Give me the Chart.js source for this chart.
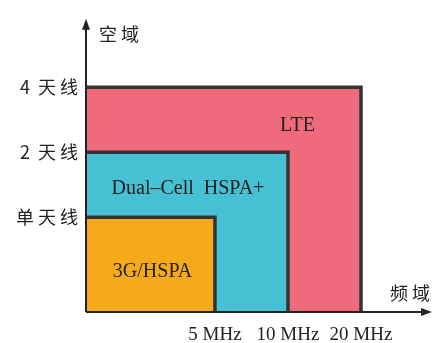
<!DOCTYPE html>
<html>
<head>
<meta charset="utf-8">
<script src="https://cdn.jsdelivr.net/npm/chart.js@4/dist/chart.umd.min.js"></script>
<style>
  html, body { margin: 0; padding: 0; background: #fff; }
  canvas { display: block; }
</style>
</head>
<body>
<canvas id="chart" width="434" height="343"></canvas>
<script>
// bandwidth (MHz) and antenna count for each technology
const techNames = ["3G/HSPA", "Dual\u2013Cell  HSPA+", "LTE"];
const techBandwidth = [5, 10, 20];
const techAntennas = [1, 2, 4];
const techColors = ["#f5aa1a", "#46c1d3", "#ef6a7b"];

const xTickValues = [5, 10, 20];
const xTickLabels = ["5 MHz", "10 MHz", "20 MHz"];
const yTickValues = [1, 2, 4];
const yTickLabels = ["单 天 线", "2  天 线", "4  天 线"];

const xTitle = "频 域";
const yTitle = "空 域";

// axis extents (log2 spacing: one doubling per step)
const xMin = 1.47, xMax = 38.5;
const yMin = 0.364, yMax = 8.3;

const ink = "#222";
const serif = "'Liberation Serif', 'DejaVu Serif', serif";
const cjk = "'Noto Sans CJK SC', sans-serif";

const datasets = techNames.map((name, i) => ({
  label: name,
  data: [
    {x: xMin, y: techAntennas[i]},
    {x: techBandwidth[i], y: techAntennas[i]},
    {x: techBandwidth[i], y: yMin}
  ],
  backgroundColor: techColors[i],
  borderColor: "#333",
  borderWidth: 3.5,
  fill: "start",
  pointRadius: 0,
  tension: 0
}));

const decorations = {
  id: "decorations",
  afterDatasetsDraw(chart) {
    const {ctx, chartArea: a, scales: {x, y}} = chart;
    ctx.save();

    // axes with arrow heads
    ctx.strokeStyle = ink;
    ctx.fillStyle = ink;
    ctx.lineWidth = 2;
    ctx.beginPath();
    ctx.moveTo(a.left, a.bottom);
    ctx.lineTo(a.left, a.top + 8);
    ctx.moveTo(a.left, a.bottom);
    ctx.lineTo(a.right - 8, a.bottom);
    ctx.stroke();
    ctx.beginPath();
    ctx.moveTo(a.left, a.top);
    ctx.lineTo(a.left - 4, a.top + 11);
    ctx.lineTo(a.left + 4, a.top + 11);
    ctx.closePath();
    ctx.moveTo(a.right + 2, a.bottom);
    ctx.lineTo(a.right - 9, a.bottom - 4);
    ctx.lineTo(a.right - 9, a.bottom + 4);
    ctx.closePath();
    ctx.fill();

    // axis titles
    ctx.font = "18px " + cjk;
    ctx.textBaseline = "middle";
    ctx.textAlign = "left";
    ctx.fillText(yTitle, a.left + 13, a.top + 15);
    ctx.textAlign = "right";
    ctx.fillText(xTitle, a.right, a.bottom - 19);

    // technology labels
    ctx.font = "20px " + serif;
    ctx.textAlign = "center";
    const x0 = x.getPixelForValue(xMin);
    const y0 = y.getPixelForValue(yMin);
    const x1 = x.getPixelForValue(techBandwidth[0]);
    const y1 = y.getPixelForValue(techAntennas[0]);
    const x2 = x.getPixelForValue(techBandwidth[1]);
    const y2 = y.getPixelForValue(techAntennas[1]);
    const x3 = x.getPixelForValue(techBandwidth[2]);
    const y3 = y.getPixelForValue(techAntennas[2]);
    ctx.fillText(techNames[0], (x0 + x1) / 2 + 2, (y1 + y0) / 2 + 7);
    ctx.fillText(techNames[1], (x0 + x2) / 2 + 1, (y2 + y1) / 2 + 4);
    ctx.fillText(techNames[2], (x2 + x3) / 2 - 27, (y3 + y2) / 2 + 6);

    ctx.restore();
  }
};

new Chart(document.getElementById("chart"), {
  type: "line",
  data: {datasets: datasets},
  options: {
    responsive: false,
    animation: false,
    devicePixelRatio: 1,
    layout: {padding: {top: 12, right: 4, left: 0, bottom: 0}},
    plugins: {legend: {display: false}, tooltip: {enabled: false}},
    scales: {
      x: {
        type: "logarithmic",
        min: xMin,
        max: xMax,
        grid: {display: false, drawTicks: false},
        border: {display: false},
        afterBuildTicks(scale) {
          scale.ticks = xTickValues.map(v => ({value: v}));
        },
        afterFit(scale) { scale.height = 31; },
        ticks: {
          padding: 12,
          color: ink,
          font: {family: serif, size: 19},
          maxRotation: 0,
          autoSkip: false,
          callback: (v) => xTickLabels[xTickValues.indexOf(v)]
        }
      },
      y: {
        type: "logarithmic",
        min: yMin,
        max: yMax,
        grid: {display: false, drawTicks: false},
        border: {display: false},
        afterBuildTicks(scale) {
          scale.ticks = yTickValues.map(v => ({value: v}));
        },
        afterFit(scale) { scale.width = 86; },
        ticks: {
          padding: 8,
          color: ink,
          font: {family: cjk, size: 18},
          autoSkip: false,
          callback: (v) => yTickLabels[yTickValues.indexOf(v)]
        }
      }
    }
  },
  plugins: [decorations]
});
</script>
</body>
</html>
